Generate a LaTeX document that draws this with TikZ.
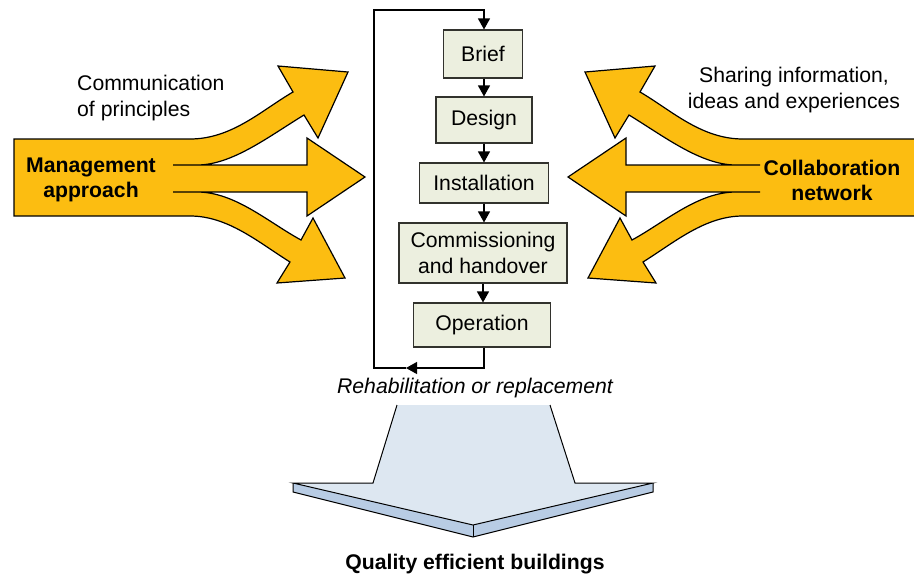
\documentclass[tikz,border=0pt]{standalone}
\usepackage{fontspec}
\setmainfont{Liberation Sans}
\usetikzlibrary{arrows.meta}
\definecolor{gold}{RGB}{252,189,17}
\definecolor{boxfill}{RGB}{236,239,223}
\definecolor{boxline}{RGB}{50,50,45}
\definecolor{bluetop}{RGB}{221,231,241}
\definecolor{blueside}{RGB}{184,204,228}
\begin{document}
\begin{tikzpicture}[x=1pt,y=-1pt,
  every node/.style={font=\fontsize{21.2}{25.5}\selectfont, inner sep=0pt},
  stage/.style={draw=boxline, line width=1.1pt, fill=boxfill, align=center},
  flow/.style={line width=1.2pt, -{Triangle[length=11pt,width=12pt]}},
  bigarrow/.style={fill=gold, draw=black, line width=1.2pt, line join=miter},
  label/.style={align=center}]
\useasboundingbox (0,0) rectangle (914,574);
\def\ArrowShapePath{(14,139) -- (190,139) .. controls (232,139) and (262,110) .. (293,92) -- (278,66) -- (348,72) -- (318,138) -- (304,115) .. controls (268,137) and (232,165) .. (197,165) -- (173,165) -- (307,165) -- (307,138) -- (365,177) -- (307,216) -- (307,192) -- (173,192) -- (197,192) .. controls (235,192) and (268,222) .. (301,240) -- (313,218) -- (345,278) -- (277,283) -- (290,262) .. controls (258,242) and (228,216) .. (190,216) -- (14,216) -- cycle}
% left and right yellow arrows
\draw[bigarrow] \ArrowShapePath;
\begin{scope}[shift={(933,0)}, xscale=-1]
\draw[bigarrow] \ArrowShapePath;
\end{scope}
% texts on arrows
\node[label, font=\fontsize{21.2}{25}\selectfont\bfseries] (mgmt) at (91,180) {Management\\approach};
\node[label, font=\fontsize{21.2}{25}\selectfont\bfseries] (collab) at (832,180) {Collaboration\\network};
\node[align=left, anchor=west] (comm) at (77,98) {Communication\\of principles};
\node[label] (share) at (794,90) {Sharing information,\\ideas and experiences};
% bottom arrow
\fill[blueside] (293,483) -- (473,525) -- (653,483) -- (653,492) -- (473,537) -- (293,492) -- cycle;
\fill[bluetop] (397,405) -- (373,483) -- (293,483) -- (473,525) -- (653,483) -- (575,483) -- (550,405) -- cycle;
\draw[line width=1pt, line join=miter] (397,405) -- (373,483) -- (293,483) -- (473,525) -- (653,483) -- (575,483) -- (550,405);
\draw[line width=1pt, line join=miter] (293,483) -- (293,492) -- (473,537) -- (653,492) -- (653,483);
\draw[line width=1pt] (473,525) -- (473,537);
% stages
\node[stage, minimum width=79pt, minimum height=48pt] (brief) at (483,54) {Brief};
\node[stage, minimum width=96pt, minimum height=46pt] (design) at (484,120) {Design};
\node[stage, minimum width=129pt, minimum height=40pt] (install) at (484,183) {Installation};
\node[stage, minimum width=168pt, minimum height=60pt] (comm2) at (483,253) {Commissioning\\and handover};
\node[stage, minimum width=137pt, minimum height=44pt] (oper) at (482,325) {Operation};
\draw[flow] (brief.south -| design.north) -- (design.north);
\draw[flow] (design.south) -- (design.south |- install.north);
\draw[flow] (install.south) -- (install.south |- comm2.north);
\draw[flow] (comm2.south) -- (comm2.south |- oper.north);
% loop
\coordinate (loopA) at (406,368);
\coordinate (loopB) at (374,368);
\coordinate (loopC) at (374,10);
\coordinate (loopD) at (484,10);
\draw[flow] (oper.south -| loopD) -- (loopD |- loopA) -- (loopA);
\draw[line width=1.2pt] (loopA) -- (loopB) -- (loopC) -- (loopD) -- ++(0,5);
\draw[flow] (loopD) -- (loopD |- brief.north);
\node (rehab) at (475,388) {\itshape Rehabilitation or replacement};
\node[font=\fontsize{21.2}{25}\selectfont\bfseries] (quality) at (475,564) {Quality efficient buildings};
\end{tikzpicture}
\end{document}
